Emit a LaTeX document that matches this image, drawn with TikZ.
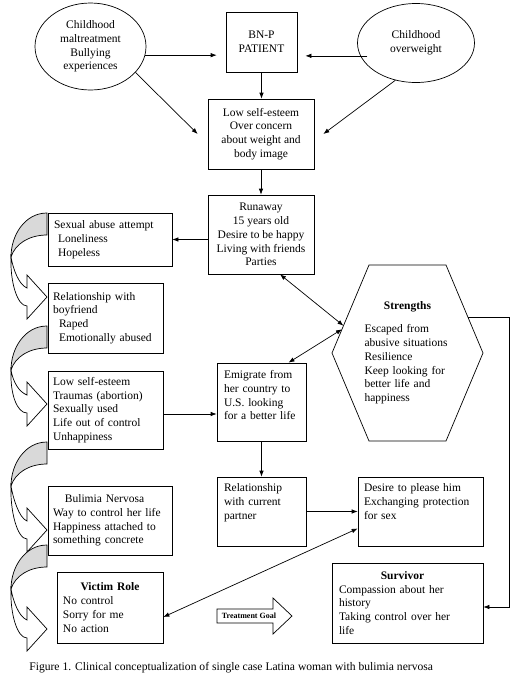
\documentclass[tikz,border=0pt]{standalone}
\usepackage{fontspec}
\setmainfont{Liberation Serif}
\usetikzlibrary{positioning,arrows.meta,calc,shapes.geometric}

\begin{document}
\begin{tikzpicture}[
  x=1pt, y=-1pt,
  line width=0.7pt,
  every node/.style={font=\fontsize{11.5}{13.8}\selectfont},
  box/.style={draw, rectangle, inner sep=0pt, align=center},
  note/.style 2 args={draw, rectangle, inner xsep=6pt, inner ysep=0pt,
    align=left, text width=#1pt, minimum height=#2pt},
  bag/.style={draw, ellipse, inner sep=0pt, align=center},
  arr/.style={-{Latex[length=6pt,width=4.5pt]}},
  both/.style={{Latex[length=6pt,width=4.5pt]}-{Latex[length=6pt,width=4.5pt]}},
  turn/.style={fill=gray!30}
  ]
\useasboundingbox (0,0) rectangle (514,681);

\node[bag, minimum width=111pt, minimum height=87pt] (maltreat) at (90.5,46.5)
    {Childhood\\maltreatment\\Bullying\\experiences};
\node[bag, minimum width=117pt, minimum height=79pt] (overweight) at (416,43)
    {Childhood\\overweight};
\node[box, minimum width=71pt, minimum height=60pt] (bnp) at (261.5,42)
    {BN-P\\PATIENT};
\node[box, minimum width=106pt, minimum height=70pt] (lowtop) at (261,134)
    {Low self-esteem\\Over concern\\about weight and\\body image};
\node[box, minimum width=106pt, minimum height=79pt] (runaway) at (261,234.5)
    {Runaway\\15 years old\\Desire to be happy\\Living with friends\\Parties};

\node[note={112}{53}] (abuse) at (110,239.5)
    {Sexual abuse attempt\\\hspace*{4pt}Loneliness\\\hspace*{4pt}Hopeless};
\node[note={105}{70}, inner xsep=5pt] (boyfr) at (105.5,318)
    {Relationship with\\boyfriend\\\hspace*{6pt}Raped\\\hspace*{6pt}Emotionally abused};
\node[note={105}{78}, inner xsep=5pt] (lowleft) at (105.5,410)
    {Low self-esteem\\Traumas (abortion)\\Sexually used\\Life out of control\\Unhappiness};
\node[note={114}{69}, inner xsep=5pt] (bulimia) at (110,520.5)
    {\makebox[103pt]{Bulimia Nervosa}\\Way to control her life\\Happiness attached to\\something concrete};
\node[note={94}{71}] (victim) at (110,607.5)
    {\makebox[94pt]{\bfseries Victim Role}\\No control\\Sorry for me\\No action};

\node[note={75}{78}, inner xsep=7pt] (emigrate) at (261.5,402)
    {Emigrate from\\her country to\\U.S. looking\\for a better life\\~};
\node[note={75}{69}, inner xsep=7pt] (relcur) at (261.5,511.5)
    {Relationship\\with current\\partner\\[6pt]~};
\node[note={113}{69}, inner xsep=6pt] (desire) at (420.5,511.5)
    {Desire to please him\\Exchanging protection\\for sex\\[6pt]~};
\node[note={137}{80}, inner xsep=7pt] (survivor) at (407.5,603)
    {\makebox[127pt]{\bfseries Survivor}\\Compassion about her\\history\\Taking control over her\\life};

\draw (369,265) coordinate (h1) -- (446,265) coordinate (h2)
    -- (483,353) coordinate (h3) -- (446,441) coordinate (h4)
    -- (369,441) coordinate (h5) -- (332,353) coordinate (h6) -- cycle;
\node[align=left, text width=89pt, inner sep=0pt] (strengths) at (409,353)
    {\makebox[86pt]{\bfseries Strengths}\\[9pt]Escaped from\\abusive situations\\Resilience\\Keep looking for\\better life and\\happiness};

\foreach \ya/\yb in {213/297,326/404,442/530,545/629}{
  \filldraw[turn] (47,\ya) .. controls (25,\ya) and (11,\ya+22) .. (11,\ya+44)
      .. controls (15,\ya+31) and (29,\ya+22) .. (47,\ya+22) -- cycle;
  \filldraw[fill=white] (11,\ya+44) .. controls (10,\ya+68) and (17,\yb+9) .. (27,\yb+9)
      -- (27,\yb+22) -- (47,\yb) -- (27,\yb-22) -- (27,\yb-9)
      .. controls (19,\yb-12) and (13,\ya+56) .. (11,\ya+44) -- cycle;
}

\draw (217,609) -- (273,609) -- (273,598) -- (292,616) -- (273,634)
    -- (273,623) -- (217,623) -- cycle;
\node[font=\bfseries\fontsize{8}{9}\selectfont, inner sep=0pt] (goal) at (249,616)
    {Treatment Goal};

\draw[arr, shorten >=9pt] (maltreat.-9) -- (bnp.west |- maltreat.-9);
\draw[arr, shorten >=8pt] ([xshift=7pt]overweight.193) -- (bnp.east |- overweight.193);
\draw[arr] (bnp.south) -- (bnp.south |- lowtop.north);
\draw[arr] (maltreat.-30) -- ([xshift=-10pt]lowtop.west);
\draw[arr] (overweight.-119) -- ([xshift=9pt]lowtop.east);
\draw[arr] (lowtop.south) -- (runaway.north);
\draw[arr] (runaway.west |- abuse.east) -- (abuse.east);
\draw[both] ([xshift=19pt]runaway.south) -- ($(h6)!0.31!(h1)$);
\draw[both] ($(h6)!0.27!(h1)$) -- ([xshift=27pt]emigrate.north);
\coordinate (lowout) at ([yshift=-4pt]lowleft.east);
\draw[arr] (lowout) -- (lowout -| emigrate.west);
\draw[arr] (emigrate.south) -- (relcur.north);
\draw[arr] (relcur.east) -- (desire.west);
\draw[both] ([yshift=-9.5pt]victim.east) -- ([yshift=-17pt]desire.west);
\draw[arr] ($(h2)!0.6!(h3)$) -- ++(41,0) |- ([yshift=-4pt]survivor.east);

\node[anchor=west, font=\fontsize{11.6}{13}\selectfont, inner sep=0pt] (caption) at (29,668)
    {Figure 1. Clinical conceptualization of single case Latina woman with bulimia nervosa};
\end{tikzpicture}
\end{document}
